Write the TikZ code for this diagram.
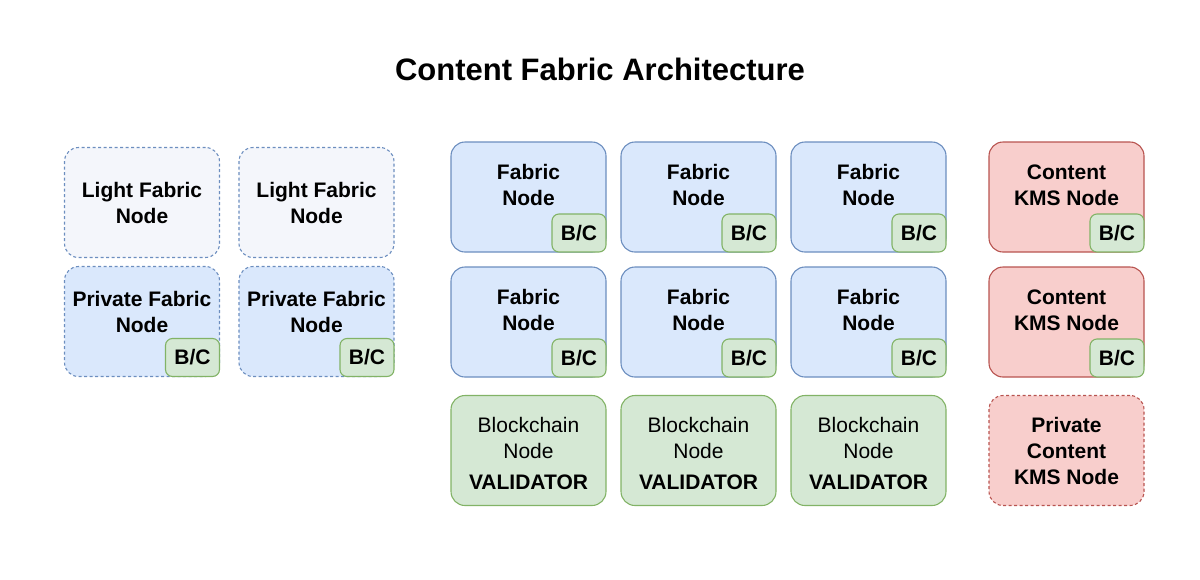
\documentclass[tikz,border=0pt]{standalone}
\usepackage{fontspec}
\setmainfont{Liberation Sans}

\definecolor{blfill}{HTML}{DAE8FC}
\definecolor{blline}{HTML}{6C8EBF}
\definecolor{ltfill}{HTML}{F4F6FB}
\definecolor{grfill}{HTML}{D5E8D4}
\definecolor{grline}{HTML}{82B366}
\definecolor{rdfill}{HTML}{F8CECC}
\definecolor{rdline}{HTML}{B85450}

\begin{document}
\begin{tikzpicture}[x=1pt, y=-1pt, align=center, font=\fontsize{21}{26}\selectfont\bfseries]
    \tikzstyle{box} = [rectangle, rounded corners=14pt, line width=1.1pt, minimum width=155pt, minimum height=110pt]
    \tikzstyle{light} = [box, draw=blline, fill=ltfill, dash pattern=on 3pt off 2.5pt]
    \tikzstyle{privfab} = [box, draw=blline, fill=blfill, dash pattern=on 3pt off 2.5pt]
    \tikzstyle{fabric} = [box, draw=blline, fill=blfill]
    \tikzstyle{kms} = [box, draw=rdline, fill=rdfill]
    \tikzstyle{privkms} = [box, draw=rdline, fill=rdfill, dash pattern=on 3pt off 2.5pt]
    \tikzstyle{chain} = [box, draw=grline, fill=grfill]
    \tikzstyle{bc} = [rectangle, rounded corners=7pt, line width=1.1pt, draw=grline, fill=grfill, minimum width=54pt, minimum height=38pt, anchor=south east]

    \useasboundingbox (0,0) rectangle (1200,579);

    \node (title) at (600,69) [font=\fontsize{31}{36}\selectfont\bfseries] {Content Fabric Architecture};

    % light and private fabric nodes
    \node (l1) at (142,202.5) [light] {Light Fabric\\Node};
    \node (l2) at (316.5,202.5) [light] {Light Fabric\\Node};

    \node (p1) at (142,321.5) [privfab] {};
    \node (p2) at (316.5,321.5) [privfab] {};
    \node (p1t) at ([yshift=10pt]p1.center) {Private Fabric\\Node};
    \node (p2t) at ([yshift=10pt]p2.center) {Private Fabric\\Node};
    \node (p1bc) at (p1.south east) [bc] {B/C};
    \node (p2bc) at (p2.south east) [bc] {B/C};

    % fabric nodes
    \node (f1) at (528.5,197) [fabric] {};
    \node (f2) at (698.5,197) [fabric] {};
    \node (f3) at (868.5,197) [fabric] {};
    \node (f4) at (528.5,322) [fabric] {};
    \node (f5) at (698.5,322) [fabric] {};
    \node (f6) at (868.5,322) [fabric] {};

    \node (f1t) at ([yshift=12pt]f1.center) {Fabric\\Node};
    \node (f2t) at ([yshift=12pt]f2.center) {Fabric\\Node};
    \node (f3t) at ([yshift=12pt]f3.center) {Fabric\\Node};
    \node (f4t) at ([yshift=12pt]f4.center) {Fabric\\Node};
    \node (f5t) at ([yshift=12pt]f5.center) {Fabric\\Node};
    \node (f6t) at ([yshift=12pt]f6.center) {Fabric\\Node};

    \node (f1bc) at (f1.south east) [bc] {B/C};
    \node (f2bc) at (f2.south east) [bc] {B/C};
    \node (f3bc) at (f3.south east) [bc] {B/C};
    \node (f4bc) at (f4.south east) [bc] {B/C};
    \node (f5bc) at (f5.south east) [bc] {B/C};
    \node (f6bc) at (f6.south east) [bc] {B/C};

    % blockchain nodes
    \node (b1) at (528.5,450.5) [chain] {};
    \node (b2) at (698.5,450.5) [chain] {};
    \node (b3) at (868.5,450.5) [chain] {};
    \node (b1t) at ([yshift=-3pt]b1.center) {\mdseries Blockchain\\\mdseries Node\\[5pt]VALIDATOR};
    \node (b2t) at ([yshift=-3pt]b2.center) {\mdseries Blockchain\\\mdseries Node\\[5pt]VALIDATOR};
    \node (b3t) at ([yshift=-3pt]b3.center) {\mdseries Blockchain\\\mdseries Node\\[5pt]VALIDATOR};

    % kms nodes
    \node (k1) at (1066.5,197) [kms] {};
    \node (k2) at (1066.5,322) [kms] {};
    \node (k1t) at ([yshift=12pt]k1.center) {Content\\KMS Node};
    \node (k2t) at ([yshift=12pt]k2.center) {Content\\KMS Node};
    \node (k1bc) at (k1.south east) [bc] {B/C};
    \node (k2bc) at (k2.south east) [bc] {B/C};

    \node (k3) at (1066.5,450.5) [privkms] {Private\\Content\\KMS Node};
\end{tikzpicture}
\end{document}
